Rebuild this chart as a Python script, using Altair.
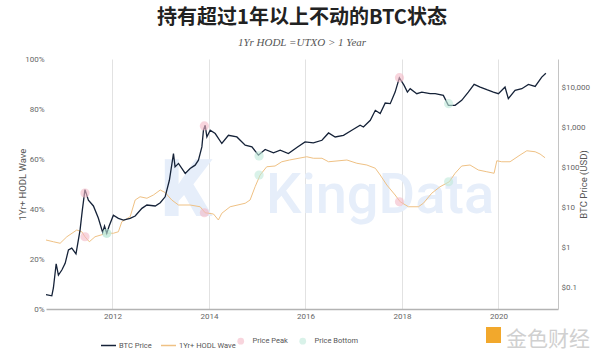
import altair as alt
import pandas as pd

# ---------------- data ----------------
btc_dates = [
    "2010-08-16", "2010-09-29", "2010-10-11", "2010-11-01", "2010-11-18", "2010-12-14",
    "2011-01-08", "2011-02-02", "2011-02-27", "2011-03-31", "2011-05-01", "2011-05-18",
    "2011-06-07", "2011-07-03", "2011-08-10", "2011-09-16", "2011-10-19", "2011-11-02",
    "2011-11-19", "2011-12-07", "2012-01-08", "2012-02-15", "2012-03-24", "2012-05-14",
    "2012-06-21", "2012-08-11", "2012-09-18", "2012-11-20", "2012-12-28", "2013-02-03",
    "2013-03-07", "2013-04-07", "2013-04-19", "2013-05-15", "2013-07-05", "2013-08-11",
    "2013-09-18", "2013-10-13", "2013-11-08", "2013-11-20", "2013-12-03", "2013-12-16",
    "2014-01-10", "2014-02-17", "2014-04-08", "2014-05-28", "2014-07-31", "2014-10-02",
    "2014-11-22", "2015-01-10", "2015-03-02", "2015-05-04", "2015-06-24", "2015-08-25",
    "2015-10-28", "2015-12-29", "2016-03-01", "2016-05-05", "2016-06-24", "2016-08-13",
    "2016-10-15", "2016-12-17", "2017-02-18", "2017-03-15", "2017-05-06", "2017-06-13",
    "2017-07-20", "2017-08-27", "2017-10-04", "2017-11-10", "2017-12-12", "2018-01-17",
    "2018-02-11", "2018-03-04", "2018-04-23", "2018-05-31", "2018-08-02", "2018-09-09",
    "2018-11-10", "2018-12-18", "2019-02-07", "2019-03-29", "2019-05-18", "2019-07-01",
    "2019-08-16", "2019-10-05", "2019-11-24", "2020-01-01", "2020-02-20", "2020-03-16",
    "2020-05-06", "2020-06-26", "2020-08-15", "2020-10-05", "2020-11-24", "2020-12-25",
]
btc_prices = [
    0.068, 0.064, 0.10, 0.40, 0.21, 0.28,
    0.41, 0.89, 0.98, 0.71, 2.8, 8.7,
    28, 15.4, 11.0, 5.5, 2.4, 3.5,
    2.3, 3.5, 6.5, 5.4, 4.9, 5.4,
    6.2, 9.6, 11.6, 11.0, 13.2, 18.6,
    48, 222, 103, 126, 71, 94,
    114, 152, 324, 843, 1120, 574,
    843, 698, 394, 632, 574, 357,
    324, 202, 280, 230, 268, 222,
    313, 431, 407, 475, 722, 574,
    632, 843, 1120, 1016, 1490, 2640,
    2190, 4010, 3870, 7520, 17100, 11020,
    7520, 9120, 6860, 7520, 6860, 6860,
    6220, 3520, 3520, 4680, 7520, 11670,
    10000, 8610, 7520, 6860, 10000, 5150,
    8280, 9120, 11670, 10400, 17700, 22200,
]

hodl_dates = [
    "2010-08-16", "2010-10-11", "2010-12-01", "2011-01-21", "2011-04-06", "2011-05-14",
    "2011-06-07", "2011-07-10", "2011-08-22", "2011-11-19", "2012-01-08", "2012-02-15",
    "2012-03-12", "2012-05-14", "2012-06-21", "2012-07-28", "2012-09-18", "2012-11-06",
    "2012-12-28", "2013-02-03", "2013-03-25", "2013-05-15", "2013-08-11", "2013-10-26",
    "2013-12-03", "2014-02-04", "2014-03-13", "2014-04-08", "2014-06-10", "2014-10-02",
    "2014-11-08", "2014-12-16", "2015-01-23", "2015-03-14", "2015-05-16", "2015-07-06",
    "2015-09-02", "2016-01-11", "2016-03-01", "2016-05-05", "2016-06-24", "2016-11-10",
    "2017-01-24", "2017-04-10", "2017-06-13", "2017-07-20", "2017-09-08", "2017-11-10",
    "2017-12-18", "2018-02-19", "2018-05-05", "2018-06-12", "2018-08-14", "2018-10-16",
    "2018-12-25", "2019-02-07", "2019-03-29", "2019-05-31", "2019-08-02", "2019-10-05",
    "2019-11-29", "2019-12-20", "2020-01-26", "2020-03-29", "2020-06-13", "2020-08-03",
    "2020-10-05", "2020-11-11", "2020-12-19",
]
hodl_pct = [
    27.6, 26.9, 26.3, 28.9, 31.6, 30.9,
    28.9, 26.9, 28.9, 30.3, 30.3, 30.9,
    34.9, 36.9, 43.6, 44.9, 44.3, 45.6,
    47.6, 46.6, 43.6, 41.6, 41.6, 40.9,
    38.5, 38.0, 35.6, 38.3, 40.9, 42.3,
    43.6, 48.9, 53.6, 56.9, 57.2, 58.9,
    59.6, 60.9, 60.3, 60.3, 58.9, 59.6,
    58.3, 57.6, 56.3, 53.6, 49.6, 45.6,
    42.9, 40.9, 40.9, 42.3, 46.3, 48.9,
    50.9, 54.3, 57.2, 57.6, 55.6, 54.9,
    54.3, 59.3, 58.9, 58.9, 61.6, 63.3,
    62.9, 62.0, 60.5,
]

peak_dates = ["2011-06-07", "2013-11-27", "2017-12-13"]
peak_btc = [23, 1077, 17100]
peak_hodl = [28.9, 38.5, 42.9]
bottom_dates = ["2011-11-19", "2015-01-15", "2018-12-20"]
bottom_btc = [2.3, 194, 3870]
bottom_hodl = [30.3, 53.6, 50.9]

series_names = ["BTC Price", "1Yr+ HODL Wave"]
marker_names = ["Price Peak", "Price Bottom"]
year_ticks = [2012, 2014, 2016, 2018, 2020]
pct_ticks = [0, 20, 40, 60, 80, 100]
price_ticks = [0.1, 1, 10, 100, 1000, 10000]
watermark_text = ["KingData"]
logo_text = ["金色财经"]

# ---------------- tables ----------------
btc_df = pd.DataFrame({"date": btc_dates, "price": btc_prices, "series": series_names[0]})
hodl_df = pd.DataFrame({"date": hodl_dates, "pct": hodl_pct, "series": series_names[1]})
marker_df = pd.DataFrame({
    "date": peak_dates + bottom_dates,
    "price": peak_btc + bottom_btc,
    "pct": peak_hodl + bottom_hodl,
    "kind": [marker_names[0]] * len(peak_dates) + [marker_names[1]] * len(bottom_dates),
})

LABEL_FONT = "Roboto"

x_enc = alt.X(
    "date:T",
    title=None,
    scale=alt.Scale(domain=[alt.DateTime(year=2010, month=8, date=16),
                            alt.DateTime(year=2021, month=3, date=27)]),
    axis=alt.Axis(
        values=[alt.DateTime(year=y, month=1, date=1) for y in year_ticks],
        format="%Y", grid=True, gridColor="#e2e2e2", gridWidth=1,
        ticks=False, domainColor="#b3b3b3", domainWidth=1.5,
        labelFont=LABEL_FONT, labelFontSize=8, labelColor="#666", labelPadding=3,
    ),
)

y_hodl = alt.Y(
    "pct:Q",
    scale=alt.Scale(domain=[0, 100]),
    axis=alt.Axis(
        orient="left", title="1Yr+ HODL Wave", values=pct_ticks,
        labelExpr="datum.value + '%'", grid=False, domain=False, ticks=False,
        labelFont=LABEL_FONT, labelFontSize=8, labelColor="#666", labelPadding=2,
        titleFont=LABEL_FONT, titleFontSize=9.5, titleFontWeight="normal",
        titleColor="#555", titleX=-24, titleY=125, titleAngle=270,
        titleBaseline="middle", titleAlign="center",
    ),
)

y_btc = alt.Y(
    "price:Q",
    scale=alt.Scale(type="log", domain=[0.03, 50000]),
    axis=alt.Axis(
        orient="right", title="BTC Price (USD)", values=price_ticks,
        labelExpr="'$' + format(datum.value, ',')", grid=False,
        domain=True, domainColor="#c4c4c4", domainWidth=1, ticks=False,
        labelFont=LABEL_FONT, labelFontSize=8, labelColor="#666", labelPadding=3,
        titleFont=LABEL_FONT, titleFontSize=9.5, titleFontWeight="normal",
        titleColor="#555", titleAngle=270, titleX=25, titleY=125,
        titleBaseline="middle", titleAlign="center",
    ),
)

stroke_enc = alt.Stroke(
    "series:N",
    scale=alt.Scale(domain=series_names, range=["#152238", "#efc184"]),
    legend=alt.Legend(
        title=None, orient="none", legendX=54, legendY=278, direction="horizontal",
        symbolType="stroke", symbolSize=225, symbolStrokeWidth=1.5,
        labelFont=LABEL_FONT, labelFontSize=7.5, labelColor="#555",
        columnPadding=6, labelOffset=2, padding=0,
    ),
)

fill_enc = alt.Fill(
    "kind:N",
    scale=alt.Scale(domain=marker_names, range=["#f4b9c7", "#bfeadb"]),
    legend=alt.Legend(
        title=None, orient="none", legendX=191, legendY=278, direction="horizontal",
        symbolType="circle", symbolSize=45, symbolStrokeWidth=0,
        labelFont=LABEL_FONT, labelFontSize=7.5, labelColor="#555",
        columnPadding=11, labelOffset=8, padding=0,
    ),
)

# watermark / logo decorations
wm = alt.Chart(pd.DataFrame({"t": watermark_text})).mark_text(
    font="Roboto", fontSize=56, fontWeight=500, color="#e6eefa",
    align="left", baseline="alphabetic",
).encode(text="t:N", x=alt.value(220), y=alt.value(154))

wm_k = alt.Chart(pd.DataFrame({"t": ["K"]})).mark_text(
    font="Roboto", fontSize=80, fontWeight=900, color="#e6eefa",
    align="center", baseline="alphabetic",
).encode(text="t:N", x=alt.value(140), y=alt.value(157))

logo = alt.Chart(pd.DataFrame({"t": logo_text})).mark_text(
    font="Noto Sans CJK SC", fontSize=21, color="#d0d0d0",
    align="left", baseline="alphabetic",
).encode(text="t:N", x=alt.value(460), y=alt.value(287))

logo_box = alt.Chart(pd.DataFrame({"t": [1]})).mark_rect(color="#f2a82c").encode(
    x=alt.value(440), x2=alt.value(455), y=alt.value(268), y2=alt.value(284)
)

hodl_line = alt.Chart(hodl_df).mark_line(strokeWidth=1).encode(
    x=x_enc, y=y_hodl, stroke=stroke_enc
)
hodl_pts = alt.Chart(marker_df).mark_circle(size=85, opacity=0.6).encode(
    x=x_enc, y=y_hodl, fill=fill_enc
)
btc_line = alt.Chart(btc_df).mark_line(strokeWidth=1.3).encode(
    x=x_enc, y=y_btc, stroke=stroke_enc
)
btc_pts = alt.Chart(marker_df).mark_circle(size=85, opacity=0.6).encode(
    x=x_enc, y=y_btc, fill=fill_enc
)

hodl_layer = alt.layer(hodl_line, hodl_pts)
btc_layer = alt.layer(btc_line, btc_pts)

chart = alt.layer(wm, wm_k, logo_box, logo, hodl_layer, btc_layer).resolve_scale(
    y="independent"
).properties(
    width=512, height=250,
    padding={"left": 46, "top": 59, "right": 42, "bottom": 44},
    autosize=alt.AutoSizeParams(type="none"),
    title=alt.TitleParams(
        text="持有超过1年以上不动的BTC状态",
        subtitle="1Yr HODL =UTXO > 1 Year",
        font="Noto Sans CJK SC", fontSize=20, fontWeight="bold", color="#222",
        subtitleFont="Liberation Serif", subtitleFontStyle="italic",
        subtitleFontSize=11, subtitleColor="#555",
        anchor="middle", offset=7, subtitlePadding=9,
    ),
).configure_view(stroke=None)

chart.save("out.html", embed_options={"renderer": "svg", "actions": False})
